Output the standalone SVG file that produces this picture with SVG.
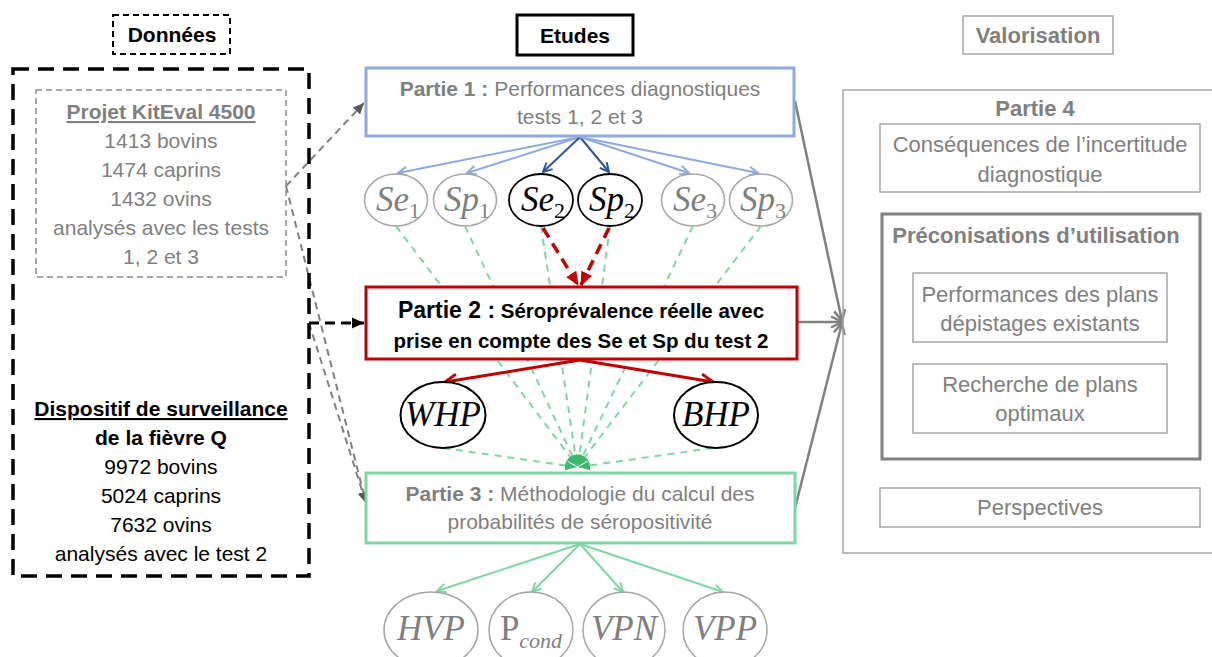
<svg xmlns="http://www.w3.org/2000/svg" width="1212" height="657" viewBox="0 0 1212 657">
<style>
text{font-family:"Liberation Sans",Arial,sans-serif;font-size:21px;text-anchor:middle;fill:#7F7F7F}
.b{font-weight:bold}
.k{fill:#000}
.r{font-size:22px}
.m{font-family:"Liberation Serif","Times New Roman",serif;font-style:italic;font-size:35px}
.sub{font-size:22px;font-style:normal}
.box{fill:#fff}
.gl{fill:none;stroke:#A6A6A6;stroke-width:1.5}
.ell{fill:#fff;stroke:#A6A6A6;stroke-width:1.5}
.ellk{fill:#fff;stroke:#000;stroke-width:2}
.gd{fill:none;stroke:#808080;stroke-width:2;stroke-dasharray:7 5}
.grn{fill:none;stroke:#7FD6A4;stroke-width:2;stroke-dasharray:7 6}
</style>
<defs>
<marker id="aLB" markerUnits="userSpaceOnUse" markerWidth="12" markerHeight="12" refX="10" refY="6" orient="auto"><path d="M1,1.5 L10,6 L1,10.5" fill="none" stroke="#8FAADC" stroke-width="2"/></marker>
<marker id="aDB" markerUnits="userSpaceOnUse" markerWidth="12" markerHeight="12" refX="10" refY="6" orient="auto"><path d="M1,1.5 L10,6 L1,10.5" fill="none" stroke="#2F5597" stroke-width="2"/></marker>
<marker id="aR" markerUnits="userSpaceOnUse" markerWidth="16" markerHeight="16" refX="13" refY="8" orient="auto"><path d="M1,2 L13,8 L1,14" fill="none" stroke="#C00000" stroke-width="3"/></marker>
<marker id="aRf" markerUnits="userSpaceOnUse" markerWidth="16" markerHeight="16" refX="13" refY="8" orient="auto"><path d="M0,2 L14,8 L0,14 z" fill="#C00000"/></marker>
<marker id="aG" markerUnits="userSpaceOnUse" markerWidth="12" markerHeight="12" refX="10" refY="6" orient="auto"><path d="M1,1.5 L10,6 L1,10.5" fill="none" stroke="#7FD6A4" stroke-width="2"/></marker>
<marker id="aGf" markerUnits="userSpaceOnUse" markerWidth="12" markerHeight="12" refX="11" refY="6" orient="auto"><path d="M0,1 L11,6 L0,11 z" fill="#3DB76E"/></marker>
<marker id="aK" markerUnits="userSpaceOnUse" markerWidth="14" markerHeight="14" refX="12" refY="7" orient="auto"><path d="M0,1.5 L12,7 L0,12.5 z" fill="#000"/></marker>
<marker id="aGr" markerUnits="userSpaceOnUse" markerWidth="12" markerHeight="12" refX="11" refY="6" orient="auto"><path d="M0,1 L11,6 L0,11 z" fill="#595959"/></marker>
<marker id="aGs" markerUnits="userSpaceOnUse" markerWidth="14" markerHeight="14" refX="12" refY="7" orient="auto"><path d="M1,1.5 L12,7 L1,12.5" fill="none" stroke="#808080" stroke-width="2.5"/></marker>
</defs>

<g id="connectors">
  <line class="grn" x1="396" y1="226" x2="577" y2="466" marker-end="url(#aGf)"/>
  <line class="grn" x1="465" y1="226" x2="577" y2="466" marker-end="url(#aGf)"/>
  <line class="grn" x1="541" y1="226" x2="577" y2="466" marker-end="url(#aGf)"/>
  <line class="grn" x1="610" y1="226" x2="578" y2="466" marker-end="url(#aGf)"/>
  <line class="grn" x1="693" y1="226" x2="578" y2="466" marker-end="url(#aGf)"/>
  <line class="grn" x1="761" y1="226" x2="578" y2="466" marker-end="url(#aGf)"/>
  <line class="grn" x1="443" y1="448" x2="576" y2="467" marker-end="url(#aGf)"/>
  <line class="grn" x1="713" y1="448" x2="579" y2="467" marker-end="url(#aGf)"/>
  <line x1="580" y1="137" x2="398" y2="173" stroke="#8FAADC" stroke-width="2" marker-end="url(#aLB)"/>
  <line x1="580" y1="137" x2="467" y2="173" stroke="#8FAADC" stroke-width="2" marker-end="url(#aLB)"/>
  <line x1="580" y1="137" x2="543" y2="172" stroke="#2F5597" stroke-width="2" marker-end="url(#aDB)"/>
  <line x1="580" y1="137" x2="609" y2="172" stroke="#2F5597" stroke-width="2" marker-end="url(#aDB)"/>
  <line x1="580" y1="137" x2="689" y2="173" stroke="#8FAADC" stroke-width="2" marker-end="url(#aLB)"/>
  <line x1="580" y1="137" x2="758" y2="173" stroke="#8FAADC" stroke-width="2" marker-end="url(#aLB)"/>
  <line x1="543" y1="228" x2="578" y2="285" stroke="#C00000" stroke-width="3.5" stroke-dasharray="11 7" marker-end="url(#aRf)"/>
  <line x1="609" y1="228" x2="581" y2="285" stroke="#C00000" stroke-width="3.5" stroke-dasharray="11 7" marker-end="url(#aRf)"/>
  <line x1="580" y1="360" x2="445" y2="382" stroke="#C00000" stroke-width="3" marker-end="url(#aR)"/>
  <line x1="580" y1="360" x2="713" y2="382" stroke="#C00000" stroke-width="3" marker-end="url(#aR)"/>
  <line x1="580" y1="544" x2="437" y2="591" stroke="#7FD6A4" stroke-width="2" marker-end="url(#aG)"/>
  <line x1="580" y1="544" x2="532" y2="592" stroke="#7FD6A4" stroke-width="2" marker-end="url(#aG)"/>
  <line x1="580" y1="544" x2="623" y2="592" stroke="#7FD6A4" stroke-width="2" marker-end="url(#aG)"/>
  <line x1="580" y1="544" x2="723" y2="592" stroke="#7FD6A4" stroke-width="2" marker-end="url(#aG)"/>
  <line class="gd" x1="286" y1="186" x2="364" y2="103" marker-end="url(#aGr)"/>
  <line class="gd" x1="286" y1="186" x2="366" y2="503" marker-end="url(#aGr)"/>
  <line class="gd" x1="309" y1="323" x2="366" y2="503" marker-end="url(#aGr)"/>
  <line x1="309" y1="323" x2="364" y2="323" stroke="#000" stroke-width="3" stroke-dasharray="10 6" marker-end="url(#aK)"/>
  <line x1="795" y1="101" x2="842" y2="321" stroke="#808080" stroke-width="2.5" marker-end="url(#aGs)"/>
  <line x1="797" y1="322" x2="842" y2="322" stroke="#808080" stroke-width="2.5" marker-end="url(#aGs)"/>
  <line x1="795" y1="508" x2="842" y2="323" stroke="#808080" stroke-width="2.5" marker-end="url(#aGs)"/>
</g>

<g id="donnees-title">
  <rect x="113" y="15" width="117" height="39" fill="#fff" stroke="#000" stroke-width="2" stroke-dasharray="6 4"/>
  <text x="172" y="42" class="b k">Données</text>
</g>
<g id="donnees-box">
  <rect x="13" y="69" width="296" height="507" fill="none" stroke="#000" stroke-width="3.5" stroke-dasharray="16 9"/>
</g>
<g id="kiteval">
  <rect x="36" y="90" width="250" height="187" fill="none" stroke="#8C8C8C" stroke-width="1.5" stroke-dasharray="6 4"/>
  <text x="161" y="119" class="b" text-decoration="underline">Projet KitEval 4500</text>
  <text x="161" y="148">1413 bovins</text>
  <text x="161" y="177">1474 caprins</text>
  <text x="161" y="206">1432 ovins</text>
  <text x="161" y="235">analysés avec les tests</text>
  <text x="161" y="264">1, 2 et 3</text>
</g>
<g id="dispositif">
  <text x="161" y="416" class="b k" text-decoration="underline">Dispositif de surveillance</text>
  <text x="161" y="445" class="b k">de la fièvre Q</text>
  <text x="161" y="474" class="k">9972 bovins</text>
  <text x="161" y="503" class="k">5024 caprins</text>
  <text x="161" y="532" class="k">7632 ovins</text>
  <text x="161" y="561" class="k">analysés avec le test 2</text>
</g>

<g id="etudes-title">
  <rect x="517" y="15" width="116" height="40" fill="#fff" stroke="#000" stroke-width="3"/>
  <text x="575" y="43" class="b k">Etudes</text>
</g>
<g id="partie1">
  <rect x="366" y="68" width="428" height="68" class="box" stroke="#8FAADC" stroke-width="3"/>
  <text x="580" y="96"><tspan class="b">Partie 1 :</tspan> Performances diagnostiques</text>
  <text x="580" y="124">tests 1, 2 et 3</text>
</g>
<g id="se1"><ellipse cx="396" cy="200" rx="31.5" ry="26" class="ell"/><text x="398" y="211" class="m">Se<tspan class="sub" dy="7">1</tspan></text></g>
<g id="sp1"><ellipse cx="465" cy="200" rx="31.5" ry="26" class="ell"/><text x="467" y="211" class="m">Sp<tspan class="sub" dy="7">1</tspan></text></g>
<g id="se2"><ellipse cx="541" cy="200" rx="32" ry="26" class="ellk" style="stroke-width:1.8"/><text x="543" y="211" class="m k">Se<tspan class="sub" dy="7">2</tspan></text></g>
<g id="sp2"><ellipse cx="610" cy="200" rx="32" ry="26" class="ellk" style="stroke-width:1.8"/><text x="612" y="211" class="m k">Sp<tspan class="sub" dy="7">2</tspan></text></g>
<g id="se3"><ellipse cx="693" cy="200" rx="31.5" ry="26" class="ell"/><text x="695" y="211" class="m">Se<tspan class="sub" dy="7">3</tspan></text></g>
<g id="sp3"><ellipse cx="761" cy="200" rx="31.5" ry="26" class="ell"/><text x="763" y="211" class="m">Sp<tspan class="sub" dy="7">3</tspan></text></g>

<g id="partie2">
  <rect x="366" y="287" width="431" height="72" class="box" stroke="#C00000" stroke-width="3"/>
  <text x="581" y="318" class="b k" style="font-size:20.5px"><tspan style="font-size:23px">Partie 2 :</tspan> Séroprévalence réelle avec</text>
  <text x="581" y="348" class="b k" style="font-size:20.5px">prise en compte des Se et Sp du test 2</text>
</g>
<g id="whp"><ellipse cx="443" cy="415" rx="42.5" ry="33" class="ellk"/><text x="443" y="426" class="m k">WHP</text></g>
<g id="bhp"><ellipse cx="716" cy="415" rx="42" ry="33" class="ellk"/><text x="716" y="426" class="m k">BHP</text></g>

<g id="partie3">
  <rect x="366" y="473" width="429" height="70" class="box" stroke="#7FD6A4" stroke-width="3"/>
  <text x="580" y="501"><tspan class="b">Partie 3 :</tspan> Méthodologie du calcul des</text>
  <text x="580" y="529">probabilités de séropositivité</text>
</g>
<g id="hvp"><ellipse cx="431" cy="630" rx="47" ry="38" class="ell"/><text x="431" y="640" class="m">HVP</text></g>
<g id="pcond"><ellipse cx="531" cy="630" rx="42" ry="38" class="ell"/><text x="531" y="640" class="m" style="font-style:normal">P<tspan style="font-style:italic;font-size:22px" dy="8">cond</tspan></text></g>
<g id="vpn"><ellipse cx="624" cy="630" rx="41" ry="38" class="ell"/><text x="624" y="640" class="m">VPN</text></g>
<g id="vpp"><ellipse cx="725" cy="630" rx="42" ry="38" class="ell"/><text x="725" y="640" class="m">VPP</text></g>

<g id="valorisation-title">
  <rect x="963" y="16" width="150" height="38" fill="#fff" class="gl"/>
  <text x="1038" y="43" class="b r">Valorisation</text>
</g>
<g id="partie4">
  <rect x="843" y="90" width="372" height="463" fill="#fff" class="gl"/>
  <text x="1035" y="116" class="b r">Partie 4</text>
</g>
<g id="consequences">
  <rect x="880" y="124" width="320" height="68" fill="#fff" class="gl"/>
  <text x="1040" y="152" class="r">Conséquences de l’incertitude</text>
  <text x="1040" y="182" class="r">diagnostique</text>
</g>
<g id="preconisations">
  <rect x="882" y="214" width="318" height="245" fill="#fff" stroke="#808080" stroke-width="3"/>
  <text x="1036" y="243" class="b r">Préconisations d’utilisation</text>
</g>
<g id="performances-plans">
  <rect x="913" y="273" width="254" height="69" fill="#fff" class="gl"/>
  <text x="1040" y="302" class="r">Performances des plans</text>
  <text x="1040" y="331" class="r">dépistages existants</text>
</g>
<g id="recherche-plans">
  <rect x="913" y="364" width="254" height="69" fill="#fff" class="gl"/>
  <text x="1040" y="392" class="r">Recherche de plans</text>
  <text x="1040" y="421" class="r">optimaux</text>
</g>
<g id="perspectives">
  <rect x="880" y="488" width="320" height="39" fill="#fff" class="gl"/>
  <text x="1040" y="515" class="r">Perspectives</text>
</g>
</svg>
